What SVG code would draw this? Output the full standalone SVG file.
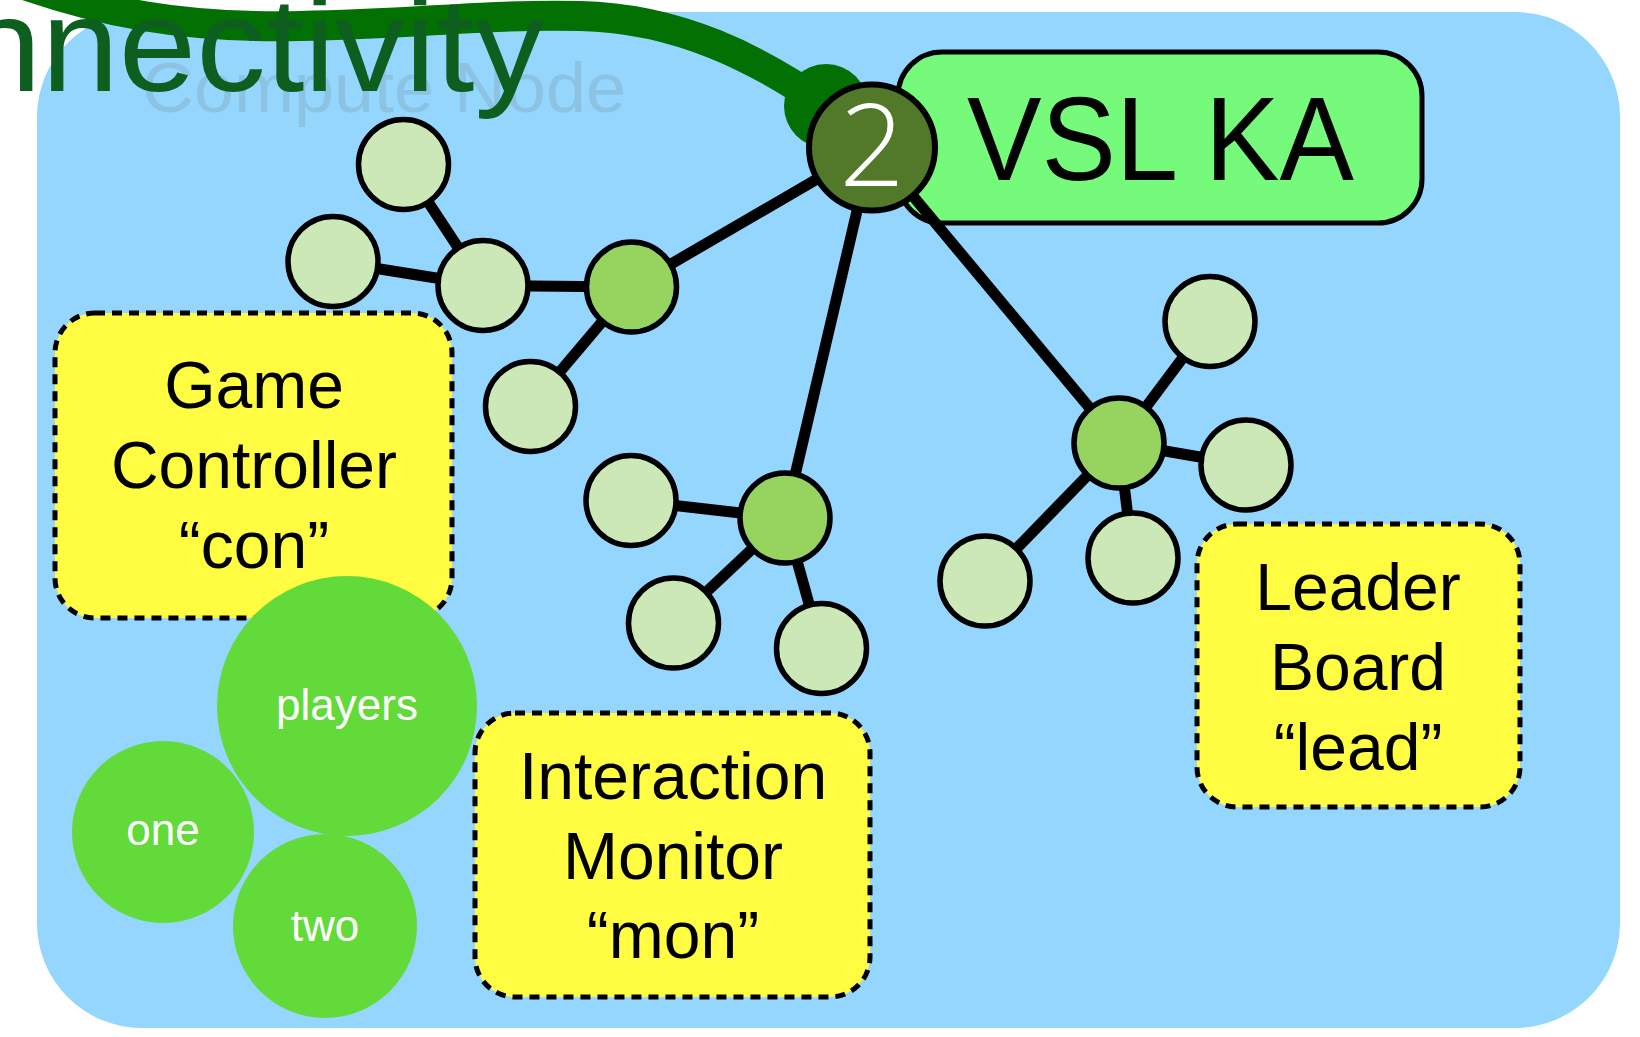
<svg xmlns="http://www.w3.org/2000/svg" width="1640" height="1037" viewBox="0 0 1640 1037">
  <style>
    .leaf { fill: #CDE8B7; stroke: #000; stroke-width: 5.5; }
    .mid { fill: #97D35F; stroke: #000; stroke-width: 5.5; }
    .edge { stroke: #000; stroke-width: 11; stroke-linecap: butt; fill: none; }
    .task { fill: #FFFC42; stroke: #000; stroke-width: 5; stroke-dasharray: 10 7; }
    .task-label { font-family: "Liberation Sans", Arial, sans-serif; font-size: 66px; fill: #000; text-anchor: middle; }
    .group { fill: #62DA3A; }
    .group-label { font-family: "Liberation Sans", Arial, sans-serif; font-size: 44px; fill: #fff; text-anchor: middle; }
  </style>

  <!-- compute node backdrop -->
  <rect id="compute-node" x="37" y="12" width="1583" height="1016" rx="105" ry="105" fill="#95D6FE"/>
  <text x="142" y="112" font-family="Liberation Sans, Arial, sans-serif" font-size="71" fill="#8CC3E2" textLength="484" lengthAdjust="spacingAndGlyphs">Compute Node</text>

  <!-- VSL KA label box -->
  <g id="vsl-ka">
    <rect x="898" y="52" width="524" height="171" rx="44" ry="44" fill="#75FA7C" stroke="#000" stroke-width="5"/>
    <text x="967" y="180" font-family="Liberation Sans, Arial, sans-serif" font-size="118" fill="#000" textLength="387" lengthAdjust="spacingAndGlyphs">VSL KA</text>
  </g>

  <!-- connectivity link -->
  <g id="connectivity">
    <path d="M -40,-40 C 100,20 200,28 300,26 C 420,24 480,14 580,16 C 680,18 760,60 826,106" fill="none" stroke="#037003" stroke-width="30"/>
    <circle cx="826" cy="106" r="42" fill="#037003"/>
    <text x="-36" y="91" font-family="Liberation Sans, Arial, sans-serif" font-size="134" fill="#0E5F1F" textLength="580" lengthAdjust="spacingAndGlyphs">nnectivity</text>
  </g>

  <!-- tree connectors -->
  <g id="connectors">
    <line class="edge" x1="872" y1="147" x2="631.5" y2="287"/>
    <line class="edge" x1="872" y1="147" x2="785" y2="518"/>
    <line class="edge" x1="872" y1="147" x2="1119" y2="443"/>
    <line class="edge" x1="631.5" y1="287" x2="483" y2="285.5"/>
    <line class="edge" x1="631.5" y1="287" x2="530.5" y2="406.5"/>
    <line class="edge" x1="483" y1="285.5" x2="403.5" y2="164.5"/>
    <line class="edge" x1="483" y1="285.5" x2="333" y2="261.5"/>
    <line class="edge" x1="785" y1="518" x2="631" y2="500.5"/>
    <line class="edge" x1="785" y1="518" x2="673.5" y2="623"/>
    <line class="edge" x1="785" y1="518" x2="821.5" y2="648.5"/>
    <line class="edge" x1="1119" y1="443" x2="1210" y2="321.5"/>
    <line class="edge" x1="1119" y1="443" x2="1246" y2="465"/>
    <line class="edge" x1="1119" y1="443" x2="1133" y2="558"/>
    <line class="edge" x1="1119" y1="443" x2="985" y2="581"/>
  </g>

  <!-- left branch -->
  <g id="n-a1"><circle class="mid" cx="631.5" cy="287" r="45"/></g>
  <g id="n-a2"><circle class="leaf" cx="483" cy="285.5" r="45"/></g>
  <g id="n-a3"><circle class="leaf" cx="403.5" cy="164.5" r="45"/></g>
  <g id="n-a4"><circle class="leaf" cx="333" cy="261.5" r="45"/></g>
  <g id="n-a5"><circle class="leaf" cx="530.5" cy="406.5" r="45"/></g>

  <!-- centre branch -->
  <g id="n-b1"><circle class="mid" cx="785" cy="518" r="45"/></g>
  <g id="n-b2"><circle class="leaf" cx="631" cy="500.5" r="45"/></g>
  <g id="n-b3"><circle class="leaf" cx="673.5" cy="623" r="45"/></g>
  <g id="n-b4"><circle class="leaf" cx="821.5" cy="648.5" r="45"/></g>

  <!-- right branch -->
  <g id="n-c1"><circle class="mid" cx="1119" cy="443" r="45"/></g>
  <g id="n-c2"><circle class="leaf" cx="1210" cy="321.5" r="45"/></g>
  <g id="n-c3"><circle class="leaf" cx="1246" cy="465" r="45"/></g>
  <g id="n-c4"><circle class="leaf" cx="1133" cy="558" r="45"/></g>
  <g id="n-c5"><circle class="leaf" cx="985" cy="581" r="45"/></g>

  <!-- root node -->
  <g id="root">
    <circle cx="872" cy="147.5" r="63" fill="#52782A" stroke="#000" stroke-width="6"/>
    <text x="872" y="186" font-family="Open Sans, Liberation Sans, sans-serif" font-weight="300" font-size="115" fill="#fff" text-anchor="middle">2</text>
  </g>

  <!-- tasks -->
  <g id="game-controller">
    <rect class="task" x="55" y="313" width="397" height="305" rx="40" ry="40"/>
    <text class="task-label" x="254" y="408">Game</text>
    <text class="task-label" x="254" y="488">Controller</text>
    <text class="task-label" x="254" y="568">“con”</text>
  </g>
  <g id="interaction-monitor">
    <rect class="task" x="475" y="713" width="395" height="284" rx="40" ry="40"/>
    <text class="task-label" x="673" y="799">Interaction</text>
    <text class="task-label" x="673" y="879">Monitor</text>
    <text class="task-label" x="673" y="958">“mon”</text>
  </g>
  <g id="leader-board">
    <rect class="task" x="1197" y="524" width="323" height="283" rx="40" ry="40"/>
    <text class="task-label" x="1358" y="610">Leader</text>
    <text class="task-label" x="1358" y="690">Board</text>
    <text class="task-label" x="1358" y="770">“lead”</text>
  </g>

  <!-- process groups -->
  <g id="players">
    <circle class="group" cx="347" cy="706" r="130"/>
    <text class="group-label" x="347" y="720">players</text>
  </g>
  <g id="one">
    <circle class="group" cx="163" cy="832" r="91"/>
    <text class="group-label" x="163" y="845">one</text>
  </g>
  <g id="two">
    <circle class="group" cx="325" cy="926" r="92"/>
    <text class="group-label" x="325" y="941">two</text>
  </g>
</svg>
